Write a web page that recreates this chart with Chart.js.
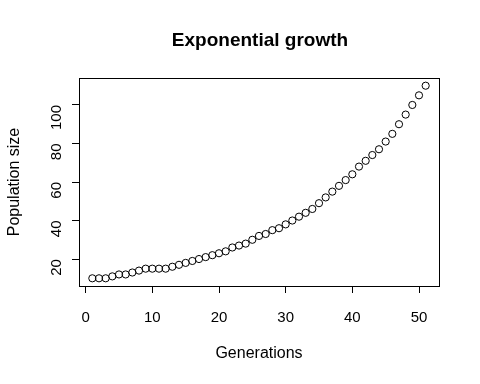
<!DOCTYPE html>
<html><head><meta charset="utf-8">
<script src="https://cdn.jsdelivr.net/npm/chart.js@4/dist/chart.umd.min.js"></script>
<style>html,body{margin:0;padding:0;background:#fff}#wrap{width:480px;height:384px}</style>
</head><body><div id="wrap"><canvas id="c" width="480" height="384"></canvas></div>
<script>
const generations = [1,2,3,4,5,6,7,8,9,10,11,12,13,14,15,16,17,18,19,20,21,22,23,24,25,26,27,28,29,30,31,32,33,34,35,36,37,38,39,40,41,42,43,44,45,46,47,48,49,50,51];
const population = [10,10,10,11,12,12,13,14,15,15,15,15,16,17,18,19,20,21,22,23,24,26,27,28,30,32,33,35,36,38,40,42,44,46,49,52,55,58,61,64,68,71,74,77,81,85,90,95,100,105,110];
const xTicks = [0,10,20,30,40,50];
const yTicks = [20,40,60,80,100];
const titleText = "Exponential growth";
const xLabel = "Generations";
const yLabel = "Population size";

const FONT = "'Liberation Sans', Arial, sans-serif";

const boxPlugin = {
  id: 'rbox',
  afterDraw(chart) {
    const {ctx, chartArea: a} = chart;
    ctx.save();
    ctx.strokeStyle = '#000';
    ctx.lineWidth = 1;
    ctx.strokeRect(Math.round(a.left) + 0.5, Math.round(a.top) + 0.5, Math.round(a.right - a.left), Math.round(a.bottom - a.top));
    const xs = chart.scales.x, ys = chart.scales.y;
    ctx.beginPath();
    ctx.moveTo(xs.getPixelForValue(xTicks[0]), a.bottom + 0.5);
    ctx.lineTo(xs.getPixelForValue(xTicks[xTicks.length-1]), a.bottom + 0.5);
    ctx.moveTo(a.left + 0.5, ys.getPixelForValue(yTicks[0]));
    ctx.lineTo(a.left + 0.5, ys.getPixelForValue(yTicks[yTicks.length-1]));
    ctx.stroke();
    ctx.fillStyle = '#000';
    ctx.textAlign = 'center';
    ctx.textBaseline = 'middle';
    ctx.font = "bold 19px " + FONT;
    ctx.fillText(titleText, 260, 41);
    ctx.restore();
  }
};

new Chart(document.getElementById('c'), {
  type: 'scatter',
  data: {
    datasets: [{
      data: generations.map((g, i) => ({x: g, y: population[i]})),
      showLine: false,
      pointStyle: 'circle',
      pointRadius: 3.6,
      pointBorderWidth: 1,
      pointBorderColor: '#000',
      pointBackgroundColor: 'rgba(0,0,0,0)'
    }]
  },
  options: {
    responsive: false,
    animation: false,
    layout: {padding: {top: 78, right: 41, left: 0, bottom: 0}},
    plugins: {legend: {display: false}, tooltip: {enabled: false}, title: {display: false}},
    scales: {
      x: {
        type: 'linear', min: -1, max: 53,
        afterBuildTicks(s) { s.ticks = xTicks.map(v => ({value: v})); },
        afterFit(s) { s.height = 98; },
        grid: {display: true, drawOnChartArea: false, drawTicks: true, tickLength: 7, color: '#000', lineWidth: 1},
        border: {display: false},
        ticks: {color: '#000', font: {family: FONT, size: 15}, padding: 16, maxRotation: 0, minRotation: 0},
        title: {display: true, text: xLabel, color: '#000', font: {family: FONT, size: 16}, padding: {top: 0, bottom: 21}}
      },
      y: {
        type: 'linear', min: 6, max: 114,
        afterBuildTicks(s) { s.ticks = yTicks.map(v => ({value: v})); },
        afterFit(s) { s.width = 79; },
        grid: {display: true, drawOnChartArea: false, drawTicks: true, tickLength: 7, color: '#000', lineWidth: 1},
        border: {display: false},
        ticks: {color: '#000', font: {family: FONT, size: 15}, padding: 15, minRotation: 90, maxRotation: 90},
        title: {display: true, text: yLabel, color: '#000', font: {family: FONT, size: 16}, padding: {top: 5, bottom: 0}}
      }
    }
  },
  plugins: [boxPlugin]
});
</script>
</body></html>
